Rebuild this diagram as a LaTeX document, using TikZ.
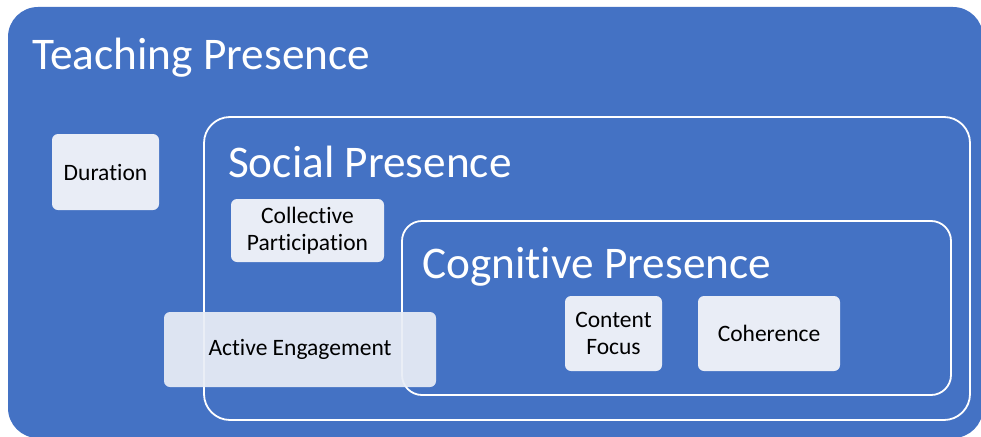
\documentclass[tikz,border=0pt]{standalone}
\usepackage{fontspec}
\setmainfont{Carlito}[Ligatures=NoCommon]
\usepackage{tikz}
\usetikzlibrary{positioning}

\definecolor{presblue}{HTML}{4472C4}
\definecolor{itemfill}{HTML}{E9EDF6}

\tikzset{
  frame/.style={draw=white,line width=1.8pt},
  title/.style={anchor=base west,text=white,inner sep=0pt,font=\fontsize{45.3}{48}\selectfont},
  item/.style={fill=itemfill,rounded corners=6pt,align=center,inner sep=0pt,
    font=\fontsize{23.5}{27}\selectfont}
}

\begin{document}
\begin{tikzpicture}[x=1pt,y=-1pt]
\useasboundingbox (0,0) rectangle (981,436);
%outer block
\fill[presblue,rounded corners=30pt] (8,7) rectangle (983,438);
\node[title] (teach) at (32,69) {Teaching Presence};
\node[item,minimum width=107pt,minimum height=76pt] (dur) at (105.5,172) {Duration};
%nested frames
\draw[frame,rounded corners=26pt] (204,117) rectangle (970,420);
\node[title] (social) at (228,177) {Social Presence};
\node[item,minimum width=153pt,minimum height=63pt] (coll) at (307.5,230.5) {Collective\\Participation};
\draw[frame,rounded corners=20pt] (402,221) rectangle (951,395);
\node[title] (cogn) at (422,278) {Cognitive Presence};
\node[item,minimum width=97pt,minimum height=75pt] (focus) at (613.5,333.5) {Content\\Focus};
\node[item,minimum width=142pt,minimum height=75pt] (coh) at (769,333.5) {Coherence};
%overlapping item
\node[item,fill opacity=0.93,text opacity=1,minimum width=272pt,minimum height=75pt] (engage) at (300,349.5) {Active Engagement};
\end{tikzpicture}
\end{document}
